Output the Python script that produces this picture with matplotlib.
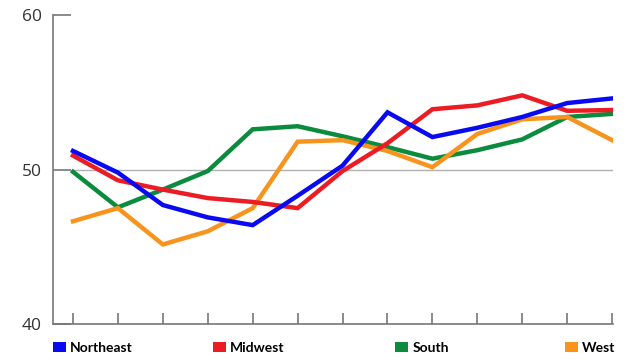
import matplotlib
matplotlib.use("Agg")
import matplotlib.pyplot as plt
from matplotlib.patches import Patch

periods = list(range(13))
northeast = [51.2, 49.8, 47.7, 46.9, 46.4, 48.3, 50.25, 53.7, 52.1, 52.7, 53.4, 54.3, 54.6]
midwest   = [50.9, 49.3, 48.7, 48.15, 47.9, 47.5, 49.9, 51.7, 53.9, 54.15, 54.8, 53.8, 53.85]
south     = [49.85, 47.55, 48.7, 49.9, 52.6, 52.8, 52.15, 51.45, 50.7, 51.25, 51.95, 53.4, 53.6]
west      = [46.65, 47.5, 45.15, 46.0, 47.5, 51.8, 51.9, 51.2, 50.15, 52.3, 53.25, 53.4, 51.9]
series_names = ["Northeast", "Midwest", "South", "West"]
colors = ["#0A0AF0", "#EC1C24", "#0B8B3E", "#F7941D"]
y_ticks = [40, 50, 60]

fig = plt.figure(figsize=(6.4, 3.6), dpi=100)
ax = fig.add_axes([53/640, 1-324/360, (613-53)/640, (324-15)/360])

ax.plot([0, 12], [50, 50], color="#b0b0b0", lw=1.0, zorder=1)
for vals, c in zip([south, west, midwest, northeast], [colors[2], colors[3], colors[1], colors[0]]):
    ax.plot(periods, vals, color=c, lw=3.2, solid_joinstyle="miter", zorder=3)

ax.set_xlim(-0.445, 12.02)
ax.set_ylim(40, 60)
ax.set_xticks(periods)
ax.set_xticklabels([])
ax.set_yticks(y_ticks)
ax.set_yticklabels([str(v) for v in y_ticks], fontsize=12.5, color="#333333", family="Open Sans")
ax.tick_params(axis="x", direction="in", length=8, width=1.2, color="#777777")
ax.tick_params(axis="y", direction="in", length=13, width=1.2, color="#777777", pad=8)
for s in ["top", "right"]:
    ax.spines[s].set_visible(False)
for s in ["left", "bottom"]:
    ax.spines[s].set_color("#777777")
    ax.spines[s].set_linewidth(1.2)

legend_x = [53, 213, 395, 565]
for name, c, xp in zip(series_names, colors, legend_x):
    fig.legend(handles=[Patch(facecolor=c, edgecolor="none")], labels=[name],
               loc="center left", bbox_to_anchor=(xp/640, 1-348/360),
               frameon=False, borderpad=0, borderaxespad=0,
               handlelength=0.95, handleheight=0.75, handletextpad=0.3,
               prop={"family": "Lato", "weight": "bold", "size": 10})

fig.savefig("out.png", dpi=100)
